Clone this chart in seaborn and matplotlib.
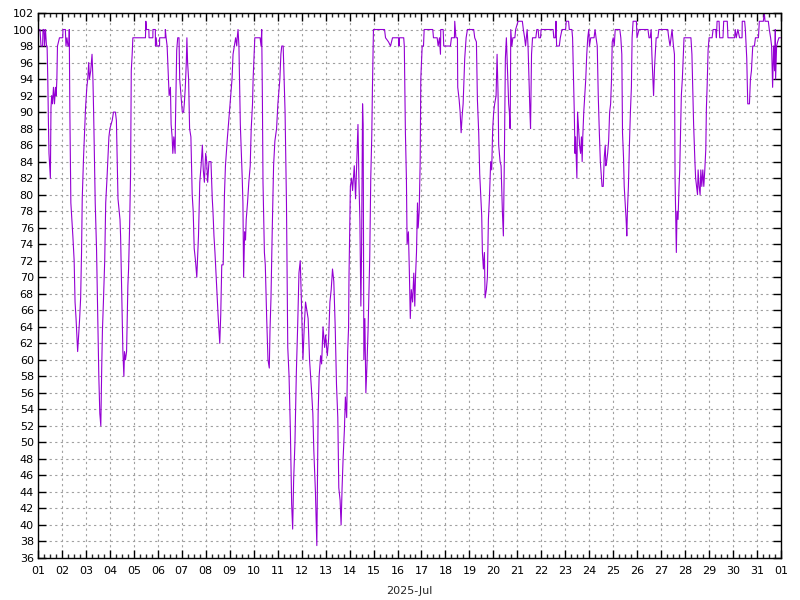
import matplotlib
matplotlib.use("Agg")
import matplotlib.pyplot as plt
import seaborn as sns
import pandas as pd
from matplotlib.ticker import MultipleLocator, FixedLocator

# hours since 2025-07-01 00:00 and relative humidity (%)
hours = [
    0, 2, 3, 4.6, 5, 6, 6.5, 7.5, 8.5, 9.1, 9.8, 10.4, 11, 12.4, 13, 13.7, 14.5, 15.5, 16.5, 17.5,
    18.2, 18.9, 19.5, 21.5, 24.8, 25, 27.4, 28, 29, 30, 31, 31.3, 31.9, 32.9, 33.9, 34.9, 36.2, 37.1,
    38.1, 39.7, 40.7, 41.7, 42.7, 43.6, 44.3, 45.6, 47.6, 48.9, 49.8, 50.8, 51.5, 52.8, 53.5, 54.1,
    55, 55.7, 57.3, 58.6, 59.6, 60.3, 60.9, 61.9, 62.9, 63.8, 64.5, 65.5, 66.8, 67.8, 69.1, 70.4,
    71, 72, 74.3, 75.6, 77.5, 78.5, 80.1, 82.1, 82.7, 84.4, 85, 86, 86.6, 87.6,
    88.7, 89.4, 90, 90.7, 91.7, 92.7, 93.4, 94.3, 95, 107.6, 108, 108.6, 111, 111.2, 115, 115.1,
    117.5, 117.6, 118.4, 119, 121.7, 121.8, 127.4, 127.5, 128.3, 129.3, 130, 131.3, 132.6, 133.3,
    134.3, 135, 136, 137.3, 137.6, 138.2, 138.9, 139.9, 141.2, 141.9, 143.2, 144.5, 145.8, 146.5,
    147.5, 148.5, 149.1, 149.8, 150.8, 151.8, 153.1, 154.4, 155.4, 156.4, 157.7, 159, 160.7, 162,
    163.3, 164.6, 165.5, 166.6, 167.9, 168.9, 169.9, 171.2, 173.2, 174.5, 175.2, 176.2, 177.2,
    178.8, 180.5, 182, 183, 184,
    185.4, 186.7, 187.7, 189.4, 191.3, 192.3, 193.3, 194.3, 195.3, 196.6, 197.9, 199, 199.5, 200.3,
    201.2, 202.6, 203.9, 204.5, 205.2, 205.9, 206.9, 207.8, 208.5, 209.8, 211.1, 212.5, 213.5,
    214.8, 215.4, 216.4, 217.1, 222.4, 223.4, 224, 224.7, 225.3, 226.7, 227.6, 229, 230.3, 231.6,
    232.3, 233.3, 234.6, 235.9, 237.2, 238.9, 240.2, 241.2, 242.2, 243.2, 244.1, 245.5, 246.5,
    247.4, 248.8, 250.1, 251.4, 252.7, 254, 255, 256, 257.3, 258.7, 260, 261.3, 262.6, 263.9,
    265.3, 266.6, 267.9, 269.2, 270.5, 271.9, 273.8, 275.2, 276.2, 277.8, 279.2,
    280.5, 281.5, 283, 284, 285.4, 287, 288, 289.7, 291, 292.3, 293.6, 294.9, 296.2, 297.6, 298.9,
    300.2, 301.2, 302.5, 303.5, 304.5, 305.5, 306.8, 307.8, 309.1, 310.1, 311, 311.4, 312.1, 312.8,
    314, 315, 316.7, 318, 319.4, 320.4, 321.4, 322.3, 323.3, 324, 325, 325.6, 326.3, 327.3, 328.3,
    329.3, 330.6, 332.2, 333.2, 334.2, 334.9, 335.9, 347, 348, 351, 353, 355, 361, 361.5, 362,
    366.2, 366.8, 367.9, 368.9, 369.6, 370.9, 371.8, 372.8, 373.8, 375.1,
    376.3, 377.3, 378, 379, 380, 380.7, 381.7, 382.7, 383.3, 384.7, 386, 386.7, 395.3, 396, 399.7,
    400.7, 402, 403, 403.3, 405.7, 406.3, 413, 414, 417, 417.3, 418.5, 420, 420.3, 421.7, 422.7,
    423.7, 424.7, 425.7, 427.3, 428.7, 430, 436.3, 437.3, 439, 440, 441.3, 442.3, 443.3, 444.3,
    445, 446, 447, 447.7, 449, 450, 451, 452, 453.3, 454.3, 455.3, 456.3, 457.3, 458.7, 459.7,
    460.7, 461.3, 462.7, 463.7, 465, 466, 467, 468, 469, 470.4, 471.3, 472, 472.7, 473, 473.4,
    474.5, 475.5, 477.5, 478.3, 480.7, 485, 486, 487.3, 488.2, 489.8, 490.7, 491.6, 492.6, 493.2,
    494.2, 495.2, 498.5, 499.5, 500.8, 501.5, 503.2, 503.8, 515.8, 516.5, 518, 518.7, 519.3, 522,
    523, 524.7, 528.3, 529, 531.3, 532, 534.6, 535.3, 537, 537.7, 538.3, 539, 539.6, 540.3, 541.3,
    542.3, 543.3, 544.2, 544.9, 545.5, 546.5, 547.5, 548.5, 549.5, 550.5, 551.5, 552.2, 553.5,
    556.8, 557.8, 558.8, 560, 561, 562.1, 563.1, 564, 564.8,
    566, 567, 568, 568.6, 569.4, 570.4, 571.4, 572.4, 573.4, 574.3, 575, 576, 577, 578, 582.6,
    583.6, 584.6, 585.3, 586.3, 587, 588, 588.9, 589.6, 590.2, 591.2, 592.2, 593.2, 594.2, 594.9,
    595.9, 599.2, 599.8, 601.8, 610.8, 611.8, 613, 614, 614.7, 615.7, 616.4, 617.4, 619, 620.7,
    621.7, 630.6, 631.6, 632.9, 633.9, 634.9, 636.3, 637.3, 637.9, 638.6, 639.2, 639.9, 640.9,
    641.9, 642.6, 643.2, 644.2, 645.2, 646.2, 646.9, 653.8, 654.8, 656.5, 657.8, 658.5, 659.4,
    660.4, 661, 662, 663, 663.7, 664.7, 665.7, 666.7, 667.7, 668.7, 669.3, 670, 671, 672, 675, 676,
    678.6, 679.3, 680, 682, 682.6, 685.9, 686.6, 690.2, 690.9, 697.5, 698.2, 699.2, 700.8, 702.5,
    705, 705.2, 707.6, 708.3, 709.7, 710.7, 712.4, 713.4, 714.4, 715.7, 717.4, 718.4, 721.4, 722.3,
    726.3, 727.3, 728, 731.3, 732.3, 733.6, 734.6, 735.6, 736.6, 737.6, 738.3, 738.6, 739.6, 740.6,
    741.9, 743.5,
]
humidity = [
    100, 100, 98, 98, 100, 100, 98, 100, 98, 98, 94, 89, 85, 82, 90.5, 92, 91, 93, 91, 93,
    92, 94, 98, 99, 99, 100, 100, 98, 99, 98, 98, 100, 90, 79, 77, 75, 72, 67,
    65, 61, 63, 65, 67.5, 73, 79.5, 84.5, 90.5, 93, 94, 96, 94, 95, 96, 97,
    94, 90, 79, 73.5, 67, 63, 58, 53.5, 52, 59, 63.5, 67, 72, 79, 82, 85.5,
    87, 88, 89, 90, 90, 89, 79.5, 77, 75, 65, 61, 58, 61, 60,
    61, 65, 69, 71, 76, 82.5, 95, 97, 99, 99, 101, 100, 100, 99, 99, 100,
    100, 98, 99, 98, 98, 99, 99, 100, 99, 98, 96, 92, 93, 88.5,
    87, 85, 87, 85, 88.5, 92.5, 97.5, 99, 99, 94, 92, 90, 90, 91,
    93, 96, 99, 96, 94, 88, 87, 80, 78, 73.5, 72, 70, 75, 81.5,
    83.5, 86, 83, 81.5, 85, 84, 81.5, 84, 84, 79.5, 78, 75, 73,
    69, 65, 62, 65.5, 71.5,
    71.5, 80, 83.5, 86.5, 89.5, 91, 92.5, 94, 97, 98, 99, 98, 99, 100,
    98, 88.5, 84, 82, 79, 70, 75.5, 74.5, 77, 79, 81.5, 83.5, 88,
    91, 94, 97, 99, 99, 98, 100, 91.5, 81.5, 73, 71.5, 65, 60, 59,
    63.5, 67.5, 76, 83.5, 86.5, 88, 91, 92.5, 94, 97, 98, 98, 94,
    90, 79, 61.5, 58, 51.5, 42.5, 39.5, 45.5, 50, 58.5, 64, 70.5, 72, 66.5,
    60, 64, 67, 66, 65, 60, 56.5, 53.5, 49, 44, 37.5,
    53.5, 58, 60.5, 59.5, 64, 61.5, 63, 60.5, 62.5, 67, 68.5, 71, 69.5, 64, 57,
    53, 44.5, 43, 40, 44.5, 48, 51.5, 55.5, 53, 61, 64, 70, 75.5, 81,
    82, 80.5, 83.5, 79.5, 85, 88.5, 81.5, 77, 66.5, 73, 91, 88.5, 60, 65, 56,
    59, 64, 72.5, 82, 87, 93, 100, 100, 99, 98.5, 98, 99, 99, 98, 99,
    99, 98, 87.5, 82, 74, 75.5, 71, 65, 68.5, 67,
    70.5, 66.5, 70, 73, 79, 76, 78, 84, 94, 98, 98, 100, 100, 99, 99,
    98, 99, 97, 100, 100, 98, 98, 99, 99, 101, 99, 99, 93, 91.5, 90,
    87.5, 89.5, 91, 96.5, 99, 100, 100, 99, 98.5, 91.5, 87.5, 82.5, 80, 77.5,
    73, 71, 73, 67.5, 68.5, 70, 77, 79.5, 84, 83, 88, 90, 91, 92, 97,
    92, 86, 84, 83.5, 78, 75, 84.5, 96.5, 99, 94, 91, 90, 88, 91, 100,
    98, 99, 99, 100, 101, 101, 100, 99, 98, 100, 98, 94, 90, 88,
    97, 99, 99, 100, 100, 99, 99, 100, 100, 99, 99, 101, 98, 98,
    99, 100, 100, 101, 101, 100, 100, 99, 90, 85, 87, 84.5, 82, 90, 88,
    86, 85, 87, 84, 87, 90, 92, 94, 97, 99, 100, 98, 99,
    99, 100, 99, 98, 92, 87.5, 84, 82.5, 81,
    81, 84.5, 86, 83.5, 84, 85, 86.5, 90, 91, 94, 98.5, 99, 98, 100, 100,
    99, 97, 87.5, 84.5, 81, 79, 77, 75, 78, 81, 86, 90, 93, 99,
    101, 101, 99, 100, 100, 99, 99, 100, 97, 94, 92, 95.5, 99, 99,
    100, 100, 99, 98, 99, 100, 98, 97, 82, 77, 73, 78, 77,
    81, 83, 86.5, 92, 94, 97, 99, 99, 97, 88.5, 84, 82, 81,
    80, 83, 81, 80, 83, 81, 83, 81, 83, 85.5, 90.5, 93, 97.5, 99, 99, 100,
    100, 99, 101, 101, 99, 99, 101, 101, 99, 99, 100, 99, 100, 99,
    99, 101, 101, 100, 96.5, 91, 91, 94, 95, 98, 98, 99, 99, 101,
    101, 102, 101, 101, 100, 99, 98, 93, 98, 95, 100, 94, 98, 98.5,
    99, 99,
]

day_labels = [f"{d:02d}" for d in range(1, 32)] + ["01"]
month_label = "2025-Jul"

df = pd.DataFrame({"day": [1 + h / 24 for h in hours], "humidity": humidity})

sns.set_style("ticks")
plt.rcParams["font.family"] = ["DejaVu Sans"]

fig = plt.figure(figsize=(8, 6), dpi=100)
ax = fig.add_axes([38 / 800, 1 - 558 / 600, 743 / 800, 545 / 600])

sns.lineplot(data=df, x="day", y="humidity", color="#9400d3", linewidth=0.8,
             estimator=None, sort=False, ax=ax)

ax.set_xlim(1, 32)
ax.set_ylim(36, 102)
ax.xaxis.set_major_locator(FixedLocator(range(1, 33)))
ax.set_xticklabels(day_labels)
ax.xaxis.set_minor_locator(MultipleLocator(0.25))
ax.yaxis.set_major_locator(MultipleLocator(2))

ax.grid(True, which="major", color="#a0a0a0", linestyle=(0, (2, 3)), linewidth=0.8)
ax.tick_params(axis="both", which="major", direction="in", length=6, width=1,
               top=True, right=True, labelsize=8, colors="black")
ax.tick_params(axis="x", which="minor", direction="in", length=3, width=1,
               top=True, bottom=True)
ax.tick_params(axis="x", which="major", pad=6)
ax.tick_params(axis="y", which="major", pad=3)
for s in ax.spines.values():
    s.set_color("black")
    s.set_linewidth(1)

ax.set_xlabel(month_label, fontsize=8, labelpad=7)
ax.set_ylabel("")

fig.savefig("out.png", dpi=100)
